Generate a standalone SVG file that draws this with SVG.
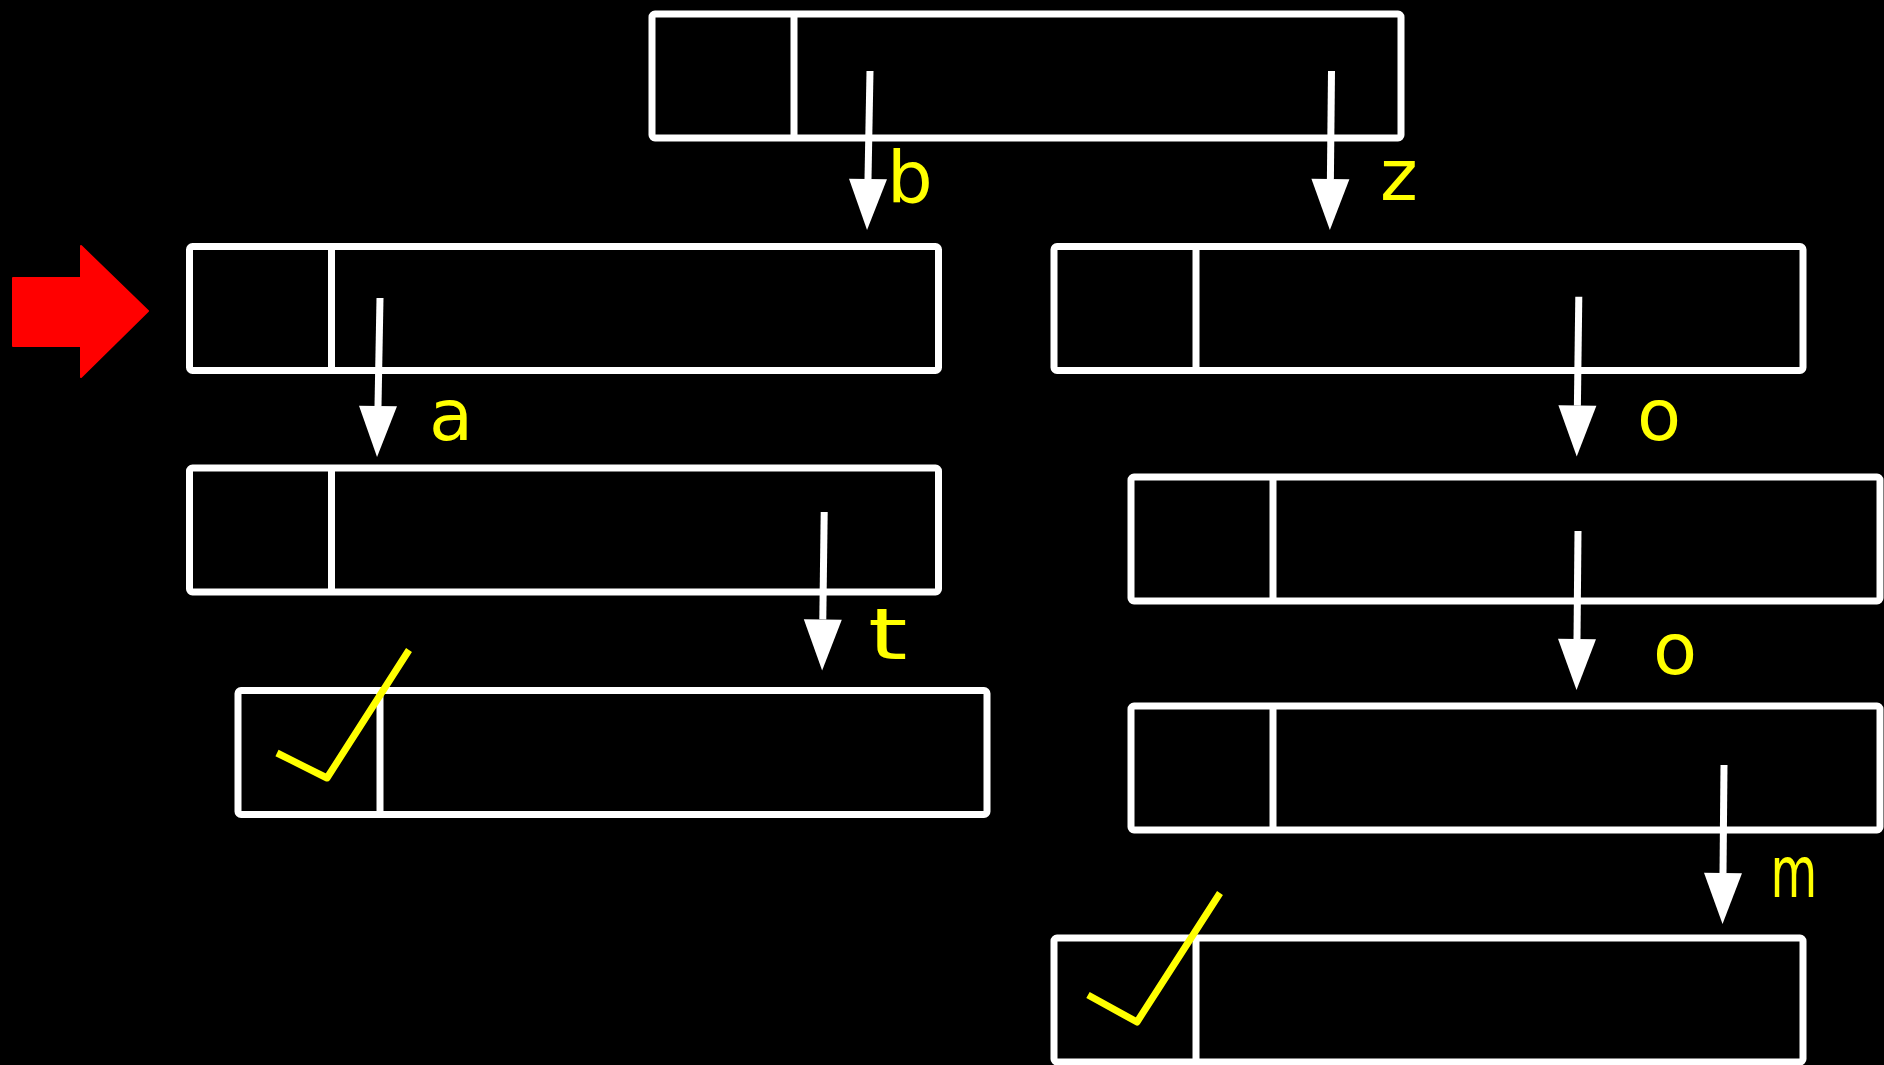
<svg xmlns="http://www.w3.org/2000/svg" width="1884" height="1065" viewBox="0 0 1884 1065">
  <style>
    .cell { fill: none; stroke: #ffffff; stroke-width: 7; }
    .link { fill: none; stroke: #ffffff; stroke-width: 7; marker-end: url(#head); }
    .lbl { fill: #ffff00; font-family: "DejaVu Sans", "Liberation Sans", sans-serif; font-size: 72px; }
    .tick { fill: none; stroke: #ffff00; stroke-width: 7; stroke-linejoin: round; }
  </style>
  <defs>
    <marker id="head" markerUnits="userSpaceOnUse" markerWidth="52" markerHeight="40" refX="0" refY="19" orient="auto" overflow="visible">
      <path d="M0,0 L51,19 L0,38 Z" fill="#ffffff"/>
    </marker>
    <!-- trie node: key cell + children cell -->
    <g id="node">
      <rect class="cell" x="0" y="0" width="749" height="124" rx="3"/>
      <line class="cell" x1="142" y1="0" x2="142" y2="124"/>
    </g>
  </defs>

  <rect width="1884" height="1065" fill="#000000"/>

  <g id="root"><use href="#node" x="652" y="14"/></g>
  <g id="node-b"><use href="#node" x="189.5" y="246.5"/></g>
  <g id="node-z"><use href="#node" x="1054" y="246.5"/></g>
  <g id="node-ba"><use href="#node" x="189.5" y="468"/></g>
  <g id="node-bat"><use href="#node" x="238" y="690.5"/></g>
  <g id="node-zo"><use href="#node" x="1131" y="477"/></g>
  <g id="node-zoo"><use href="#node" x="1131" y="706"/></g>
  <g id="node-zoom"><use href="#node" x="1054" y="938"/></g>

  <!-- current-node pointer -->
  <g id="pointer">
    <path d="M13,278 L81,278 L81,246 L148,311 L81,377 L81,346 L13,346 Z" fill="#ff0000" stroke="#ff0000" stroke-width="2" stroke-linejoin="round"/>
  </g>

  <g id="connectors">
    <path class="link" d="M870,71 L868,179"/>
    <path class="link" d="M1331.5,71 L1330.4,179"/>
    <path class="link" d="M380,298 L378,406"/>
    <path class="link" d="M824.2,512 L822.8,619.4"/>
    <path class="link" d="M1578.8,296.8 L1577.4,405.6"/>
    <path class="link" d="M1578,531 L1577,639"/>
    <path class="link" d="M1724,765 L1723,873"/>
  </g>

  <g id="labels">
    <text class="lbl" x="887" y="202">b</text>
    <text class="lbl" x="1380" y="200">z</text>
    <text class="lbl" x="429" y="440">a</text>
    <text class="lbl" x="868" y="659" textLength="39.5" lengthAdjust="spacingAndGlyphs">t</text>
    <text class="lbl" x="1637" y="440">o</text>
    <text class="lbl" x="1653" y="674">o</text>
    <text class="lbl" x="1770.5" y="897" textLength="46.7" lengthAdjust="spacingAndGlyphs">m</text>
  </g>

  <!-- end-of-word marks -->
  <g id="word-end-bat"><polyline class="tick" points="277,753 327,778 409,650"/></g>
  <g id="word-end-zoom"><polyline class="tick" points="1088,995 1137,1022 1220,893"/></g>
</svg>
